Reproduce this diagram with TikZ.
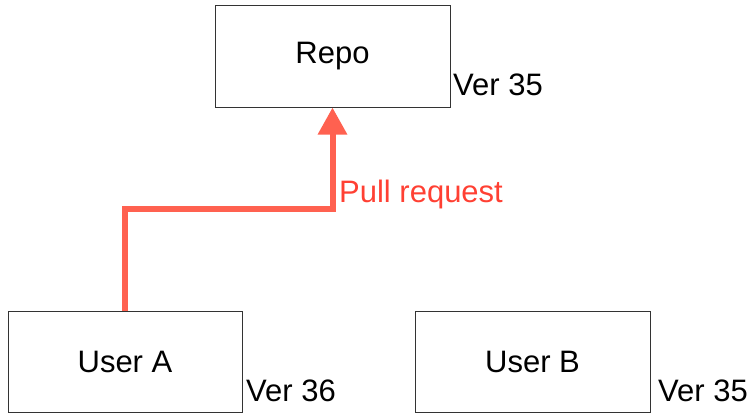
\documentclass[tikz,border=0pt]{standalone}
\usepackage{fontspec}
\setmainfont{Liberation Sans}
\definecolor{BoxLine}{RGB}{51, 51, 51}
\definecolor{PullRed}{RGB}{255, 97, 80}
\definecolor{PullText}{RGB}{255, 64, 51}
\usetikzlibrary{arrows.meta, positioning}

\begin{document}
\begin{tikzpicture}[x=1pt, y=-1pt, >=Triangle, every node/.style={font=\fontsize{31}{35}\selectfont}]
    \useasboundingbox (0,0) rectangle (755,420);
    \node[draw=BoxLine, line width=1pt, minimum width=235pt, minimum height=101pt, inner sep=0pt] (repo) at (332.5,56.5) {Repo};
    \node[draw=BoxLine, line width=1pt, minimum width=234pt, minimum height=101pt, inner sep=0pt] (usera) at (125,361.5) {User A};
    \node[draw=BoxLine, line width=1pt, minimum width=235pt, minimum height=101pt, inner sep=0pt] (userb) at (532.5,361.5) {User B};
    \node[anchor=west, inner sep=0pt] (verrepo) at (453,85) {Ver 35};
    \node[anchor=west, inner sep=0pt] (vera) at (246,391) {Ver 36};
    \node[anchor=west, inner sep=0pt] (verb) at (658,391) {Ver 35};
    \coordinate (bend) at (332.5,209);
    \draw[PullRed, line width=6pt, line join=miter, -{Triangle[length=27pt, width=28pt]}] (usera.north) |- (bend) -- (repo.south);
    \node[anchor=west, inner sep=0pt, text=PullText] (pull) at (339,194) {Pull request};
\end{tikzpicture}
\end{document}
